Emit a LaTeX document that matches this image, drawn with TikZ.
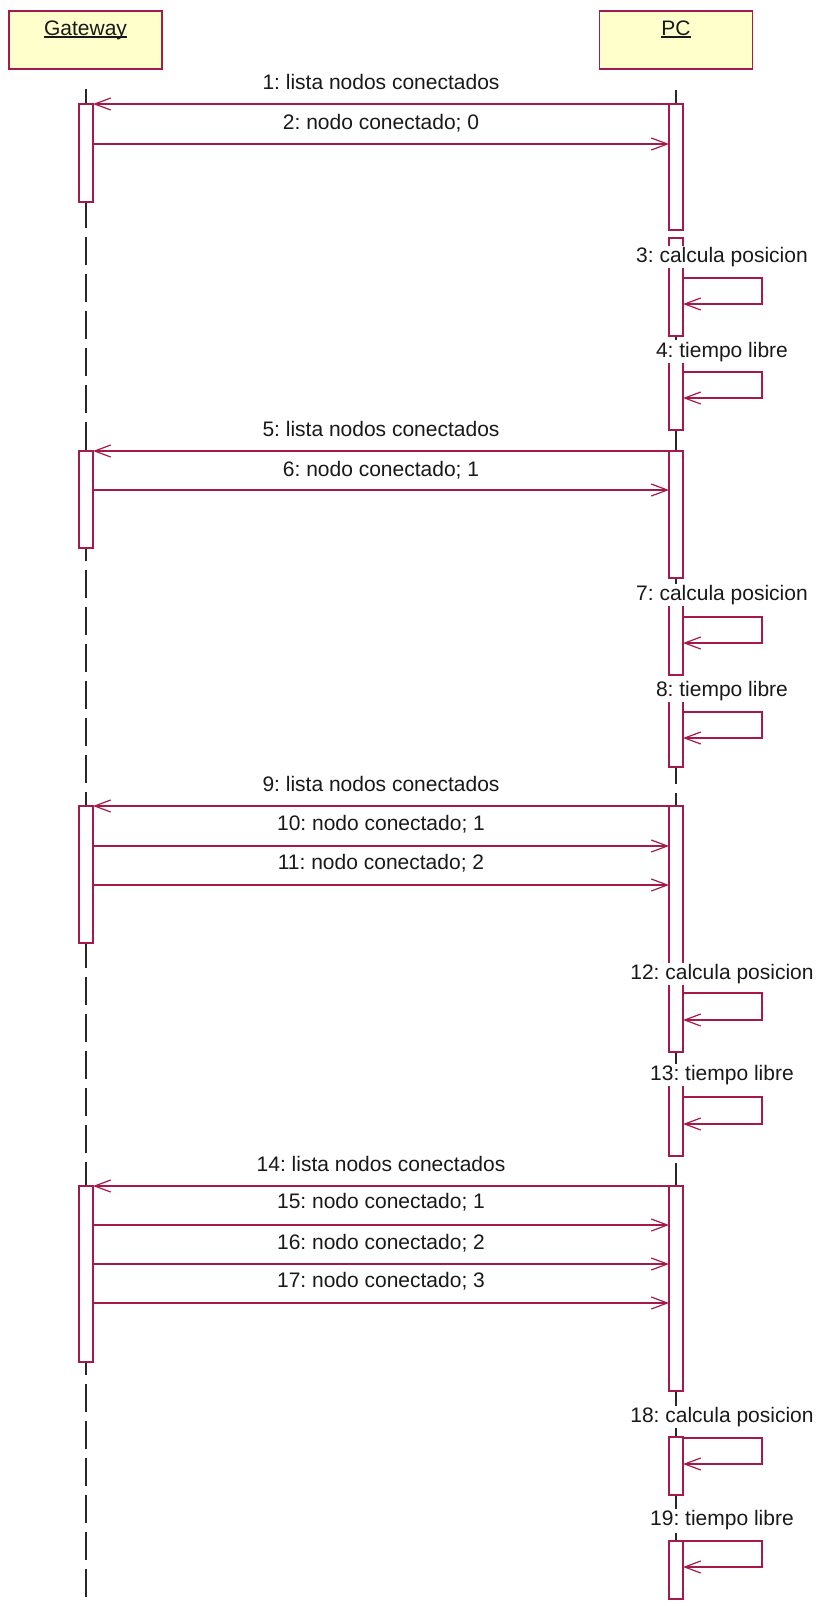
\documentclass[tikz,border=0pt]{standalone}
\usepackage{fontspec}
\setmainfont{Liberation Sans}
\usetikzlibrary{arrows.meta}
\frenchspacing
\definecolor{crim}{RGB}{165,25,75}
\definecolor{hdrfill}{RGB}{255,255,204}
\definecolor{lifec}{RGB}{40,40,40}
\definecolor{txt}{RGB}{25,25,25}
\newcommand\labfont{\fontsize{21pt}{24pt}\selectfont\frenchspacing}
\newcommand\ulname[1]{\setbox0\hbox{#1}\rlap{\rule[-2.5pt]{\wd0}{1.3pt}}\box0}
\tikzset{
  act/.style={draw=crim, fill=white, line width=1.2pt, minimum width=14pt, inner sep=0pt, outer sep=0pt, anchor=north},
  hdr/.style={draw=crim, fill=hdrfill, line width=1.3pt, minimum width=153pt, minimum height=58pt, inner sep=0pt, outer sep=0pt, text height=24pt, text depth=34pt, font=\labfont, text=txt},
  msg/.style={draw=crim, line width=1.2pt, -{Straight Barb[length=16pt,width=12pt]}},
  lab/.style={fill=white, inner sep=1pt, text=txt, font=\labfont},
  life/.style={draw=lifec, line width=1.2pt, dash pattern=on 28pt off 9pt}
}
\begin{document}
\begin{tikzpicture}[x=1pt,y=-1pt]
\useasboundingbox (0,0) rectangle (818,1606);
% headers
\node[hdr] (gw) at (85.5,40) {\ulname{Gateway}};
\node[hdr] (pc) at (676,40) {\ulname{PC}};
% lifelines
\coordinate (gwtop) at (86,89);
\coordinate (gwbot) at (86,1600);
\coordinate (pctop) at (676,90);
\coordinate (pcbot) at (676,1600);
\draw[life] (gwtop) -- (gwbot);
\draw[life] (pctop) -- (pcbot);
% activations Gateway
\node[act, minimum height=98pt]  (gA) at (86,104) {};
\node[act, minimum height=97pt]  (gB) at (86,451) {};
\node[act, minimum height=137pt] (gC) at (86,806) {};
\node[act, minimum height=176pt] (gD) at (86,1186) {};
% activations PC
\node[act, minimum height=126pt] (p1) at (676,104) {};
\node[act, minimum height=98pt]  (p3) at (676,238) {};
\node[act, minimum height=78pt]  (p4) at (676,352) {};
\node[act, minimum height=127pt] (p5) at (676,451) {};
\node[act, minimum height=80pt]  (p7) at (676,595) {};
\node[act, minimum height=76pt]  (p8) at (676,691) {};
\node[act, minimum height=162pt] (p9) at (676,806) {};
\node[act, minimum height=80pt]  (p12) at (676,972) {};
\node[act, minimum height=81pt]  (p13) at (676,1075) {};
\node[act, minimum height=205pt] (p14) at (676,1186) {};
\node[act, minimum height=58pt]  (p18) at (676,1437) {};
\node[act, minimum height=58pt]  (p19) at (676,1541) {};
% messages 1-2
\draw[msg] (p1.north west) -- (gA.north east);
\draw[msg] ([yshift=-40pt]gA.north east) -- ([yshift=-40pt]p1.north west);
% self 3, 4
\draw[msg] ([yshift=-40pt]p3.north east) -- ++(79,0) -- ++(0,26) -- ([yshift=-66pt]p3.north east);
\draw[msg] ([yshift=-20pt]p4.north east) -- ++(79,0) -- ++(0,26) -- ([yshift=-46pt]p4.north east);
% 5-6
\draw[msg] (p5.north west) -- (gB.north east);
\draw[msg] ([yshift=-39pt]gB.north east) -- ([yshift=-39pt]p5.north west);
% self 7, 8
\draw[msg] ([yshift=-22pt]p7.north east) -- ++(79,0) -- ++(0,26) -- ([yshift=-48pt]p7.north east);
\draw[msg] ([yshift=-21pt]p8.north east) -- ++(79,0) -- ++(0,26) -- ([yshift=-47pt]p8.north east);
% 9-11
\draw[msg] (p9.north west) -- (gC.north east);
\draw[msg] ([yshift=-40pt]gC.north east) -- ([yshift=-40pt]p9.north west);
\draw[msg] ([yshift=-79pt]gC.north east) -- ([yshift=-79pt]p9.north west);
% self 12, 13
\draw[msg] ([yshift=-21pt]p12.north east) -- ++(79,0) -- ++(0,27) -- ([yshift=-48pt]p12.north east);
\draw[msg] ([yshift=-22pt]p13.north east) -- ++(79,0) -- ++(0,27) -- ([yshift=-49pt]p13.north east);
% 14-17
\draw[msg] (p14.north west) -- (gD.north east);
\draw[msg] ([yshift=-39pt]gD.north east) -- ([yshift=-39pt]p14.north west);
\draw[msg] ([yshift=-78pt]gD.north east) -- ([yshift=-78pt]p14.north west);
\draw[msg] ([yshift=-117pt]gD.north east) -- ([yshift=-117pt]p14.north west);
% self 18, 19
\draw[msg] ([yshift=-1pt]p18.north east) -- ++(79,0) -- ++(0,26) -- ([yshift=-27pt]p18.north east);
\draw[msg] ([yshift=0pt]p19.north east) -- ++(79,0) -- ++(0,26) -- ([yshift=-26pt]p19.north east);
% labels
\node[lab] (l1)  at (381,82)   {1: lista nodos conectados};
\node[lab] (l2)  at (381,123)  {2: nodo conectado; 0};
\node[lab] (l3)  at (722,257)  {3: calcula posicion};
\node[lab] (l4)  at (722,352)  {4: tiempo libre};
\node[lab] (l5)  at (381,429)  {5: lista nodos conectados};
\node[lab] (l6)  at (381,470)  {6: nodo conectado; 1};
\node[lab] (l7)  at (722,595)  {7: calcula posicion};
\node[lab] (l8)  at (722,691)  {8: tiempo libre};
\node[lab] (l9)  at (381,784)  {9: lista nodos conectados};
\node[lab] (l10) at (381,824)  {10: nodo conectado; 1};
\node[lab] (l11) at (381,863)  {11: nodo conectado; 2};
\node[lab] (l12) at (722,974)  {12: calcula posicion};
\node[lab] (l13) at (722,1075) {13: tiempo libre};
\node[lab] (l14) at (381,1164) {14: lista nodos conectados};
\node[lab] (l15) at (381,1202) {15: nodo conectado; 1};
\node[lab] (l16) at (381,1243) {16: nodo conectado; 2};
\node[lab] (l17) at (381,1281) {17: nodo conectado; 3};
\node[lab] (l18) at (722,1417) {18: calcula posicion};
\node[lab] (l19) at (722,1520) {19: tiempo libre};
\end{tikzpicture}
\end{document}
